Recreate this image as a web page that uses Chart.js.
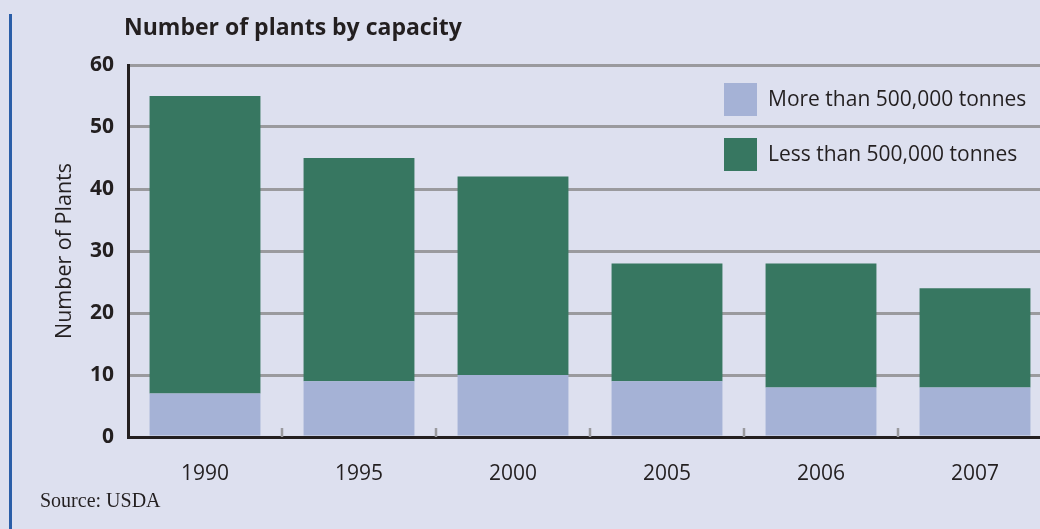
<!DOCTYPE html>
<html>
<head>
<meta charset="utf-8">
<script src="https://cdn.jsdelivr.net/npm/chart.js@4"></script>
<style>
  html, body { margin: 0; padding: 0; background: #dde0ef; overflow: hidden; }
  #wrap { position: relative; width: 1040px; height: 529px; overflow: hidden; }
  #sideRule { position: absolute; left: 9px; top: 14px; width: 3px; height: 515px; background: #2a5ea8; }
  #chart { position: absolute; left: 0; top: 0; }
</style>
</head>
<body>
<div id="wrap">
  <div id="sideRule"></div>
  <canvas id="chart" width="1060" height="529"></canvas>
</div>
<script>
// data
const years = ["1990", "1995", "2000", "2005", "2006", "2007"];
const moreThan500k = [7, 9, 10, 9, 8, 8];
const lessThan500k = [48, 36, 32, 19, 20, 16];
const yTicks = [0, 10, 20, 30, 40, 50, 60];
const seriesNames = ["More than 500,000 tonnes", "Less than 500,000 tonnes"];
const chartTitle = "Number of plants by capacity";
const sourceNote = "Source: USDA";

const INK = '#231f20';
const GRID = '#9a9a9e';

Chart.defaults.font.family = '"Open Sans", sans-serif';
Chart.defaults.color = INK;

// title, source line, legend and the little category ticks
const extras = {
  id: 'extras',
  beforeDatasetsDraw(chart) {
    const { ctx, chartArea, scales: { x } } = chart;
    ctx.save();
    ctx.strokeStyle = GRID;
    ctx.lineWidth = 2.5;
    for (let i = 1; i < years.length; i++) {
      const px = Math.round((x.getPixelForValue(i - 1) + x.getPixelForValue(i)) / 2);
      ctx.beginPath();
      ctx.moveTo(px, chartArea.bottom - 9);
      ctx.lineTo(px, chartArea.bottom);
      ctx.stroke();
    }
    ctx.restore();
  },
  afterDraw(chart) {
    const ctx = chart.ctx;
    ctx.save();
    ctx.fillStyle = INK;
    ctx.textBaseline = 'alphabetic';
    ctx.font = 'bold 23px "Open Sans"';
    ctx.fillText(chartTitle, 124, 35);
    ctx.font = '20px "Liberation Serif"';
    ctx.fillText(sourceNote, 40, 507);

    // legend
    ctx.font = '21px "Open Sans"';
    ctx.textBaseline = 'middle';
    chart.data.datasets.forEach((ds, i) => {
      const top = 83 + i * 55;
      ctx.fillStyle = ds.backgroundColor;
      ctx.fillRect(724, top, 33, 33);
      ctx.fillStyle = INK;
      ctx.fillText(ds.label, 768, top + 17);
    });
    ctx.restore();
  }
};

new Chart(document.getElementById('chart'), {
  type: 'bar',
  data: {
    labels: years,
    datasets: [
      { label: seriesNames[0], data: moreThan500k, backgroundColor: '#a5b2d6' },
      { label: seriesNames[1], data: lessThan500k, backgroundColor: '#377761' }
    ]
  },
  options: {
    responsive: false,
    animation: false,
    devicePixelRatio: 1,
    layout: { padding: { top: 65, right: 8, bottom: 0, left: 0 } },
    datasets: {
      bar: { barPercentage: 0.72, categoryPercentage: 1, borderWidth: 0 }
    },
    plugins: {
      legend: { display: false },
      tooltip: { enabled: false }
    },
    scales: {
      x: {
        stacked: true,
        grid: { display: false, drawTicks: false },
        border: { display: true, color: INK, width: 3 },
        ticks: { padding: 24, font: { size: 21 }, color: INK },
        afterFit(s) { s.height = 92; }
      },
      y: {
        stacked: true,
        min: 0,
        max: 60,
        afterBuildTicks(s) { s.ticks = yTicks.map(v => ({ value: v })); },
        grid: {
          drawTicks: false,
          lineWidth: 3,
          color: ctx => (ctx.tick && ctx.tick.value === 0) ? 'rgba(0,0,0,0)' : GRID
        },
        border: { display: true, color: INK, width: 3 },
        ticks: { padding: 14, font: { size: 21, weight: 'bold' }, color: INK },
        title: {
          display: true,
          text: 'Number of Plants',
          font: { size: 21.5 },
          color: INK,
          padding: { top: 52, bottom: 0 }
        },
        afterFit(s) { s.width = 128; }
      }
    }
  },
  plugins: [extras]
});
</script>
</body>
</html>
